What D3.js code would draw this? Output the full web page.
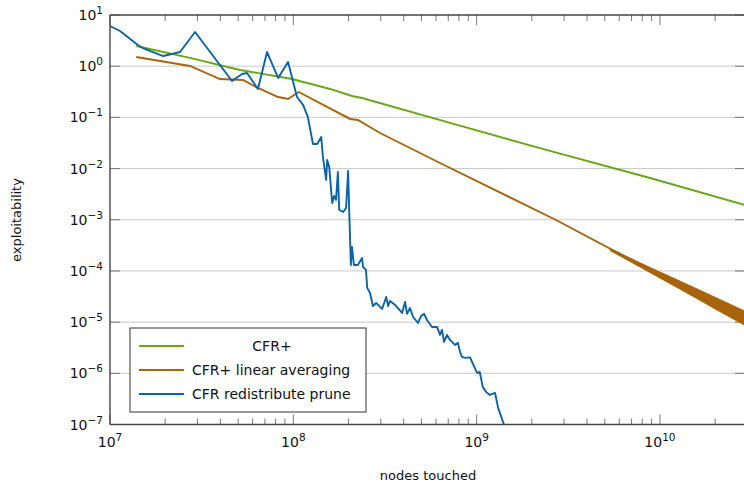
<!DOCTYPE html>
<html>
<head>
<meta charset="utf-8">
<script src="https://cdn.jsdelivr.net/npm/d3@7"></script>
<style>
  html, body { margin: 0; padding: 0; background: #fff; }
  svg { display: block; font-family: "DejaVu Sans", sans-serif; }
</style>
</head>
<body>
<svg id="chart" width="744" height="483"></svg>
<script>
// ---- data -------------------------------------------------------------
const cfrPlusNodes = [1.39e7, 2.73e7, 5.12e7, 9.84e7, 1.585e8, 2.09e8, 2.37e8, 7.16e8, 2.51e9, 8.83e9, 2.88e10];
const cfrPlusExpl  = [2.48, 1.45, 0.843, 0.562, 0.359, 0.262, 0.239, 0.0778, 0.0221, 6.55e-3, 1.95e-3];

const linearNodes = [1.39e7, 2.73e7, 3.98e7, 5.32e7, 6.41e7, 8.26e7, 9.36e7, 1.07e8, 2.04e8, 2.25e8, 2.97e8, 3.82e8, 6.31e8, 2.71e9, 9.06e9, 2.88e10];
const linearExpl  = [1.51, 1.01, 0.562, 0.537, 0.375, 0.250, 0.229, 0.313, 0.0931, 0.0889, 0.0495, 0.0316, 0.01285, 9.9e-4, 1.0e-4, 1.21e-5];

// oscillation band of the linear-averaging run at large node counts
const linearTailNodes = [5.35e9, 7.78e9, 1.0e10, 1.29e10, 1.66e10, 2.13e10, 2.91e10];
const linearTailUpper = [2.74e-4, 1.44e-4, 9.52e-5, 6.30e-5, 4.16e-5, 2.75e-5, 1.63e-5];
const linearTailLower = [2.50e-4, 1.20e-4, 7.26e-5, 4.40e-5, 2.65e-5, 1.60e-5, 8.65e-6];

const pruneNodes = [1.0e7, 1.134e7, 1.42e7, 1.51e7, 1.95e7, 2.41e7, 2.91e7, 4.63e7, 5.25e7, 5.59e7,
  6.41e7, 7.19e7, 8.26e7, 9.36e7, 1.047e8, 1.13e8, 1.20e8, 1.28e8, 1.35e8, 1.42e8,
  1.45e8, 1.51e8, 1.53e8, 1.57e8, 1.63e8, 1.67e8, 1.71e8, 1.75e8, 1.78e8, 1.87e8,
  1.94e8, 1.99e8, 2.01e8, 2.04e8, 2.06e8, 2.09e8, 2.14e8, 2.25e8, 2.37e8, 2.40e8,
  2.49e8, 2.53e8, 2.62e8, 2.72e8, 2.83e8, 3.05e8, 3.13e8, 3.21e8, 3.29e8, 3.37e8,
  3.59e8, 3.92e8, 4.07e8, 4.17e8, 4.33e8, 4.50e8, 4.79e8, 4.98e8, 5.17e8, 5.36e8,
  5.71e8, 6.08e8, 6.31e8, 6.47e8, 6.64e8, 6.89e8, 7.16e8, 7.62e8, 7.91e8, 8.11e8,
  8.32e8, 8.65e8, 9.20e8, 1.005e9, 1.04e9, 1.08e9, 1.125e9, 1.18e9, 1.26e9, 1.31e9, 1.43e9];
const pruneExpl = [6.10, 4.87, 2.59, 2.26, 1.58, 1.89, 4.66, 0.514, 0.705, 0.736,
  0.359, 1.89, 0.589, 1.21, 0.250, 0.175, 0.102, 0.0302, 0.0302, 0.0414,
  0.0169, 5.98e-3, 0.0147, 0.0107, 2.13e-3, 2.92e-3, 2.44e-3, 8.59e-3, 1.55e-3, 1.42e-3,
  1.70e-3, 8.98e-3, 2.44e-3, 4.03e-4, 1.31e-4, 2.94e-4, 1.31e-4, 1.31e-4, 1.79e-4, 1.20e-4,
  1.05e-4, 4.66e-5, 3.72e-5, 2.07e-5, 2.37e-5, 1.81e-5, 2.37e-5, 3.10e-5, 2.07e-5, 2.60e-5,
  2.17e-5, 1.51e-5, 2.48e-5, 1.45e-5, 1.89e-5, 1.26e-5, 9.64e-6, 1.32e-5, 1.45e-5, 1.10e-5,
  8.05e-6, 8.05e-6, 5.62e-6, 7.05e-6, 4.10e-6, 5.62e-6, 4.49e-6, 3.59e-6, 3.93e-6, 2.62e-6,
  2.09e-6, 2.00e-6, 2.05e-6, 1.02e-6, 1.06e-6, 5.42e-7, 4.34e-7, 3.78e-7, 4.14e-7, 2.11e-7, 8.6e-8];

const seriesNames = ["CFR+", "CFR+ linear averaging", "CFR redistribute prune"];
const seriesColors = ["#66a814", "#a8640a", "#0b63a8"];

const xTickExps = [7, 8, 9, 10];
const yTickExps = [1, 0, -1, -2, -3, -4, -5, -6, -7];
const xLabel = "nodes touched";
const yLabel = "exploitability";

// ---- layout -----------------------------------------------------------
const svg = d3.select("#chart");
const plotLeft = 110, plotRight = 745, plotTop = 15, plotBottom = 424.5;

const x = d3.scaleLog().domain([1e7, 2.91e10]).range([plotLeft, plotRight]);
const y = d3.scaleLog().domain([1e-7, 1e1]).range([plotBottom, plotTop]);

svg.append("defs").append("clipPath").attr("id", "plot")
  .append("rect").attr("x", plotLeft).attr("y", plotTop)
  .attr("width", plotRight - plotLeft).attr("height", plotBottom - plotTop);

// horizontal grid at each decade
svg.append("g")
  .selectAll("line")
  .data(yTickExps.slice(1, -1))
  .join("line")
  .attr("x1", plotLeft).attr("x2", plotRight)
  .attr("y1", d => y(Math.pow(10, d))).attr("y2", d => y(Math.pow(10, d)))
  .attr("stroke", "#c9c9c9").attr("stroke-width", 1);

// ticks (pointing inward)
const majorX = xTickExps.map(e => Math.pow(10, e));
const minorX = [];
for (let e = 7; e <= 10; e++) for (let m = 2; m <= 9; m++) {
  const v = m * Math.pow(10, e);
  if (v < 2.91e10) minorX.push(v);
}
const tickColor = "#777";
function xTicks(yPos, dir) {
  const g = svg.append("g");
  g.selectAll(".maj").data(majorX).join("line")
    .attr("x1", d => x(d)).attr("x2", d => x(d))
    .attr("y1", yPos).attr("y2", yPos + dir * 10)
    .attr("stroke", tickColor).attr("stroke-width", 1);
  g.selectAll(".min").data(minorX).join("line")
    .attr("x1", d => x(d)).attr("x2", d => x(d))
    .attr("y1", yPos).attr("y2", yPos + dir * 6)
    .attr("stroke", tickColor).attr("stroke-width", 1);
}
xTicks(plotBottom, -1);
xTicks(plotTop, 1);
svg.append("g").selectAll("line").data(yTickExps).join("line")
  .attr("x1", plotLeft).attr("x2", plotLeft + 10)
  .attr("y1", d => y(Math.pow(10, d))).attr("y2", d => y(Math.pow(10, d)))
  .attr("stroke", tickColor).attr("stroke-width", 1);
svg.append("g").selectAll("line").data(yTickExps).join("line")
  .attr("x1", plotRight - 10).attr("x2", plotRight)
  .attr("y1", d => y(Math.pow(10, d))).attr("y2", d => y(Math.pow(10, d)))
  .attr("stroke", tickColor).attr("stroke-width", 1);

// ---- series -----------------------------------------------------------
const lineGen = d3.line().x(d => x(d[0])).y(d => y(d[1]));
const plot = svg.append("g").attr("clip-path", "url(#plot)");

plot.append("path")
  .datum(d3.zip(cfrPlusNodes, cfrPlusExpl))
  .attr("d", lineGen).attr("fill", "none")
  .attr("stroke", seriesColors[0]).attr("stroke-width", 1.9);

plot.append("path")
  .datum(d3.zip(linearNodes, linearExpl))
  .attr("d", lineGen).attr("fill", "none")
  .attr("stroke", seriesColors[1]).attr("stroke-width", 1.9);

const band = d3.area()
  .x(d => x(d[0])).y0(d => y(d[2])).y1(d => y(d[1]));
plot.append("path")
  .datum(d3.zip(linearTailNodes, linearTailUpper, linearTailLower))
  .attr("d", band).attr("fill", seriesColors[1]).attr("stroke", seriesColors[1])
  .attr("stroke-width", 1);

plot.append("path")
  .datum(d3.zip(pruneNodes, pruneExpl))
  .attr("d", lineGen).attr("fill", "none")
  .attr("stroke", seriesColors[2]).attr("stroke-width", 1.9)
  .attr("stroke-linejoin", "round");

// ---- frame ------------------------------------------------------------
const frameColor = "#444";
svg.append("line").attr("x1", plotLeft).attr("x2", plotRight).attr("y1", plotTop).attr("y2", plotTop)
  .attr("stroke", frameColor).attr("stroke-width", 1.4);
svg.append("line").attr("x1", plotLeft).attr("x2", plotRight).attr("y1", plotBottom).attr("y2", plotBottom)
  .attr("stroke", frameColor).attr("stroke-width", 1.4);
svg.append("line").attr("x1", plotLeft).attr("x2", plotLeft).attr("y1", plotTop).attr("y2", plotBottom)
  .attr("stroke", frameColor).attr("stroke-width", 1.4);

// ---- tick labels ------------------------------------------------------
const baseSize = 14, expSize = 10.5;
function powerLabel(sel, e) {
  sel.append("tspan").attr("font-size", baseSize).text("10");
  sel.append("tspan").attr("font-size", expSize).attr("dy", -6)
    .text(e < 0 ? "\u2212" + Math.abs(e) : String(e));
}
svg.append("g").selectAll("text").data(xTickExps).join("text")
  .attr("x", d => x(Math.pow(10, d)))
  .attr("y", 447)
  .attr("text-anchor", "middle")
  .attr("fill", "#111")
  .each(function (d) { powerLabel(d3.select(this), d); });

svg.append("g").selectAll("text").data(yTickExps).join("text")
  .attr("x", 103)
  .attr("y", d => y(Math.pow(10, d)) + 5)
  .attr("text-anchor", "end")
  .attr("fill", "#111")
  .each(function (d) { powerLabel(d3.select(this), d); });

// axis titles
svg.append("text").attr("x", 428).attr("y", 480)
  .attr("text-anchor", "middle").attr("font-size", 13).attr("fill", "#111")
  .text(xLabel);
svg.append("text")
  .attr("transform", "translate(21,220) rotate(-90)")
  .attr("text-anchor", "middle").attr("font-size", 13).attr("fill", "#111")
  .text(yLabel);

// ---- legend -----------------------------------------------------------
const legend = svg.append("g");
legend.append("rect")
  .attr("x", 130).attr("y", 328).attr("width", 236).attr("height", 84)
  .attr("fill", "#fff").attr("stroke", "#333").attr("stroke-width", 1);
seriesNames.forEach((name, i) => {
  const ly = 346 + i * 24;
  legend.append("line").attr("x1", 139).attr("x2", 184).attr("y1", ly).attr("y2", ly)
    .attr("stroke", seriesColors[i]).attr("stroke-width", 1.9);
  legend.append("text")
    .attr("x", i === 0 ? 272 : 192).attr("y", ly + 5)
    .attr("text-anchor", i === 0 ? "middle" : "start")
    .attr("font-size", 14).attr("fill", "#111")
    .text(name);
});
</script>
</body>
</html>
